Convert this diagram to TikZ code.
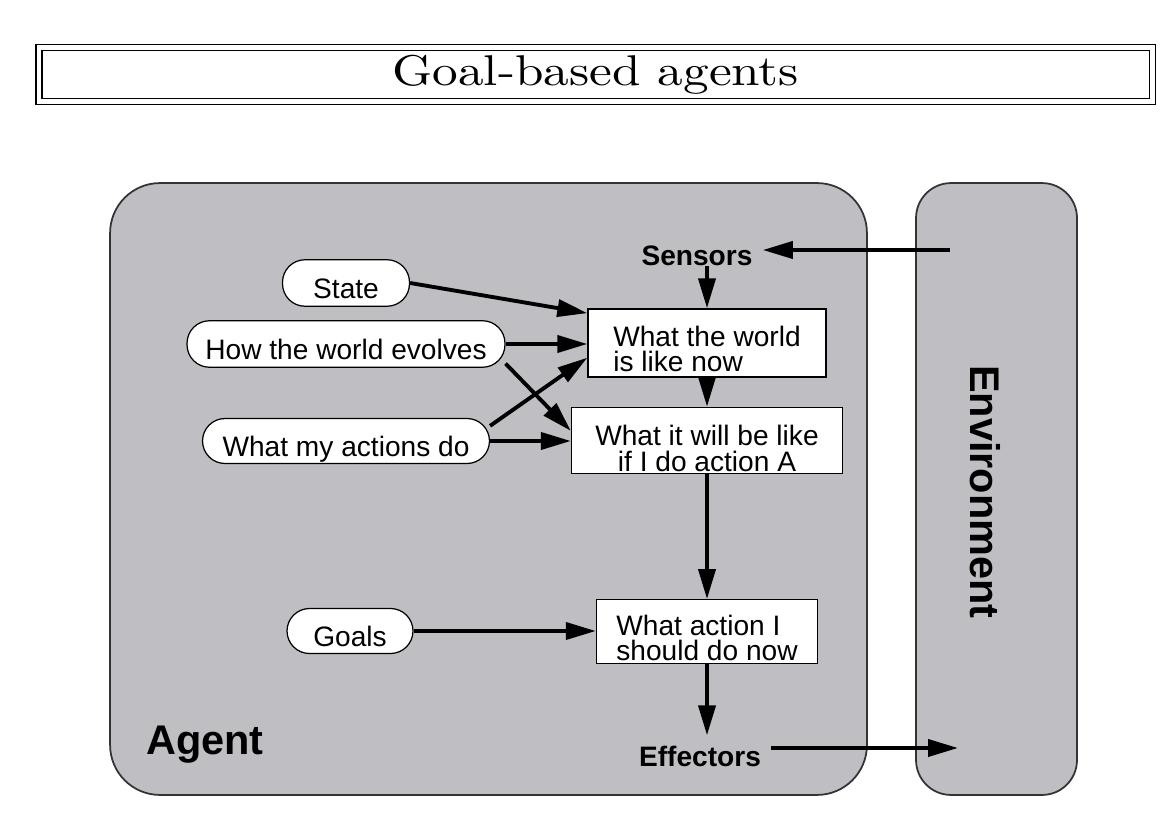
\documentclass[tikz,border=0pt]{standalone}
\usepackage{fontspec}
\newfontfamily\arialfont{Liberation Sans}
\newfontfamily\titlefont{lmroman10-regular.otf}
\usepackage{graphicx}
\usepackage{xcolor}
\usepackage{tikz}
\usetikzlibrary{arrows.meta}
\usetikzlibrary{positioning}
\definecolor{agentgray}{RGB}{191,190,195}

\begin{document}
\begin{tikzpicture}[x=0.02cm, y=-0.02cm,
  marco/.style={draw=black!80, fill=agentgray, line width=1pt, inner sep=0pt},
  pill/.style={draw, fill=white, line width=0.7pt, rounded corners=0.45cm, minimum height=0.93cm, inner sep=0pt,
    text height=18pt, text depth=0pt, font=\arialfont\fontsize{16}{15}\selectfont},
  caja/.style={draw, fill=white, line width=0.8pt, inner sep=0pt},
  texto/.style={inner sep=0pt, font=\arialfont\fontsize{16}{14.5}\selectfont},
  rotulo/.style={inner sep=0.2cm, font=\arialfont\bfseries\fontsize{16}{15}\selectfont},
  flecha/.style={line width=2.2pt, -{Triangle[length=0.6cm,width=0.34cm]}}]
  \useasboundingbox (0,0) rectangle (1168,820);

  % Titulo
  \node[draw, double, double distance=0.09cm, line width=0.03cm, inner sep=0pt,
    minimum width=22.27cm, minimum height=1.08cm,
    font=\titlefont\fontsize{24.5}{28}\selectfont] (title) at (595.75,74.5) {\scalebox{1.19}[1]{Goal-based agents}};

  % Agente y entorno
  \node[marco, rounded corners=1cm, minimum width=15.14cm, minimum height=12.24cm] (agent) at (488.5,489) {};
  \node[marco, rounded corners=0.7cm, minimum width=3.22cm, minimum height=12.24cm] (env) at (996.5,489) {};
  \node[font=\arialfont\bfseries\fontsize{23.6}{25}\selectfont] (agentlabel) at (205,745) {Agent};
  \node[rotate=-90, font=\arialfont\bfseries\fontsize{23.6}{25}\selectfont] (envlabel) at (985,492) {Environment};

  % Sensores y efectores
  \node[rotulo] (sensors) at (697,256) {Sensors};
  \node[rotulo] (effectors) at (700,756) {Effectors};
  \coordinate (envin) at (950,250);
  \coordinate (envout) at (958,748);

  % Cajas de la columna
  \node[caja, minimum width=4.76cm, minimum height=1.36cm] (now) at (707,343) {};
  \node[caja, below=0.58cm of now, minimum width=5.42cm, minimum height=1.32cm] (will) {};
  \node[caja, below=2.5cm of will, minimum width=4.42cm, minimum height=1.28cm] (action) {};
  \node[texto, align=left] (nowtext) at ([yshift=-0.12cm]now) {What the world\\is like now};
  \node[texto, align=center] (willtext) at ([yshift=-0.16cm]will) {What it will be like\\if I do action A};
  \node[texto, align=left] (actiontext) at ([yshift=-0.12cm]action) {What action I\\should do now};

  % Nodos de la izquierda
  \node[pill, minimum width=2.54cm] (state) at (346,283) {State};
  \node[pill, minimum width=6.36cm] (how) at (346,344) {How the world evolves};
  \node[pill, minimum width=5.74cm, minimum height=0.9cm] (actions) at (346,441) {What my actions do};
  \node[pill, minimum width=2.52cm, minimum height=0.9cm] (goals) at (350,631) {Goals};

  % Conexiones
  \draw[flecha] (envin) -- (envin -| sensors.east);
  \draw[flecha] (now.north |- sensors.base) -- (now.north);
  \draw[flecha] (now.south) -- (will.north);
  \draw[flecha] (will.south) -- (action.north);
  \draw[flecha] (action.south) -- (action.south |- effectors.north);
  \draw[flecha] (effectors.east |- envout) -- (envout);
  \draw[flecha] (state.east) -- (now.166);
  \draw[flecha] (how.east) -- (how.east -| now.west);
  \draw[flecha] (how.-7) -- (will.176);
  \draw[flecha] (actions.6) -- (now.-173);
  \draw[flecha] (actions.east) -- (actions.east -| will.west);
  \draw[flecha] (goals.east) -- (goals.east -| action.west);
\end{tikzpicture}
\end{document}
